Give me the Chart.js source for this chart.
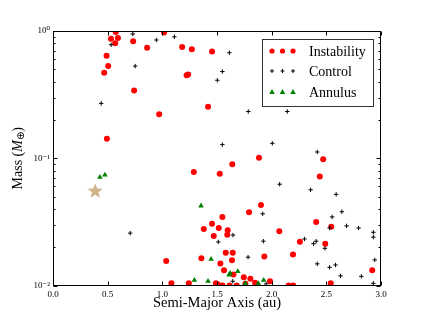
<!DOCTYPE html>
<html>
<head>
<meta charset="utf-8">
<script src="https://cdn.jsdelivr.net/npm/chart.js@4.4.1/dist/chart.umd.min.js"></script>
<style>
  html, body { margin: 0; padding: 0; background: #fff; }
</style>
</head>
<body>
<canvas id="chart" width="424" height="318"></canvas>
<script>
'use strict';

// semi-major axis (au) and mass (M_earth)
var instabilityA = [0.574, 0.53, 0.594, 0.569, 0.733, 1.016, 0.861, 1.181, 1.27, 1.455, 0.49, 0.505, 0.468, 1.222, 1.236,
  0.742, 1.418, 0.971, 0.493, 2.471, 2.44, 1.64, 1.884, 1.288, 1.525, 1.902, 1.793, 1.549, 2.407, 2.545, 2.07, 1.598,
  1.594, 2.258, 2.49, 1.58, 1.644, 2.195, 1.933, 1.637, 2.92, 1.564, 1.745, 1.805, 1.65, 1.848, 1.985, 1.76, 2.54,
  2.155, 2.197, 1.55, 1.615, 1.68, 1.455, 1.379, 1.516, 1.47, 1.035, 1.357, 1.531, 1.083, 1.242, 1.49, 1.51];
var instabilityM = [0.98, 0.87, 0.88, 0.80, 0.83, 0.975, 0.74, 0.75, 0.72, 0.69, 0.64, 0.53, 0.47, 0.45, 0.455,
  0.34, 0.254, 0.222, 0.142, 0.098, 0.072, 0.0897, 0.101, 0.078, 0.0755, 0.043, 0.0377, 0.0346, 0.0316, 0.0289, 0.0267, 0.0272,
  0.025, 0.0221, 0.0213, 0.0181, 0.0181, 0.0175, 0.0169, 0.0158, 0.0132, 0.0132, 0.0116, 0.0113, 0.0122, 0.0105, 0.0108, 0.0103, 0.0104,
  0.01, 0.01, 0.01, 0.01, 0.01, 0.0306, 0.0278, 0.0283, 0.0245, 0.0156, 0.0164, 0.0149, 0.0104, 0.0104, 0.0104, 0.0102];

var controlA = [0.73, 0.532, 0.946, 1.11, 0.752, 1.503, 0.441, 1.613, 1.549, 1.786, 2.143, 1.549, 2.006, 2.417, 2.073,
  2.356, 2.59, 1.918, 2.642, 2.553, 2.685, 2.795, 2.53, 2.93, 2.93, 1.646, 2.30, 2.407, 2.383, 1.924, 2.487, 1.784,
  2.417, 2.584, 2.53, 2.943, 2.63, 2.82, 1.95, 1.644, 2.93, 0.706, 1.512];
var controlM = [0.947, 0.78, 0.85, 0.90, 0.53, 0.41, 0.27, 0.675, 0.48, 0.233, 0.233, 0.128, 0.131, 0.112, 0.0625,
  0.0565, 0.052, 0.0366, 0.038, 0.0346, 0.0294, 0.0283, 0.0283, 0.0262, 0.024, 0.0249, 0.0232, 0.0223, 0.0213, 0.0223, 0.0196, 0.0167,
  0.0148, 0.0145, 0.0139, 0.0159, 0.0119, 0.0118, 0.0103, 0.0108, 0.0104, 0.0258, 0.022];

var annulusA = [0.429, 0.475, 1.354, 1.446, 1.293, 1.418, 1.61, 1.62, 1.69, 1.927, 1.759, 1.878];
var annulusM = [0.071, 0.074, 0.0423, 0.0161, 0.011, 0.0108, 0.0121, 0.0125, 0.0129, 0.011, 0.0104, 0.0104];

var starA = [0.386];
var starM = [0.055];

var xTicks = [0, 0.5, 1.0, 1.5, 2.0, 2.5, 3.0];
var yTicks = [0.01, 0.1, 1];
var yTickLabels = ['10\u207B\u00B2', '10\u207B\u00B9', '10\u2070'];
var legendLabels = ['Instability', 'Control', 'Annulus'];

var serif = '"Liberation Serif", "DejaVu Serif", serif';

function toPoints(a, m) {
  return a.map(function (v, i) { return { x: v, y: m[i] }; });
}

// frame, inward ticks, star, legend and y title
var decorations = {
  id: 'decorations',
  afterDraw: function (chart) {
    var ctx = chart.ctx;
    var area = chart.chartArea;
    var xs = chart.scales.x, ys = chart.scales.y;
    ctx.save();

    // star marker
    var sx = xs.getPixelForValue(starA[0]), sy = ys.getPixelForValue(starM[0]);
    ctx.beginPath();
    for (var k = 0; k < 10; k++) {
      var r = k % 2 === 0 ? 8 : 3.4;
      var ang = -Math.PI / 2 + k * Math.PI / 5;
      var px = sx + r * Math.cos(ang), py = sy + r * Math.sin(ang);
      if (k === 0) ctx.moveTo(px, py); else ctx.lineTo(px, py);
    }
    ctx.closePath();
    ctx.fillStyle = '#d2b48c';
    ctx.fill();

    // frame
    ctx.strokeStyle = '#000';
    ctx.lineWidth = 1;
    var L = Math.round(area.left) + 0.5, R = Math.round(area.right) - 0.5;
    var T = Math.round(area.top) + 0.5, B = Math.round(area.bottom) - 0.5;
    ctx.strokeRect(L, T, R - L, B - T);

    ctx.beginPath();
    xTicks.forEach(function (v) {
      var p = Math.round(xs.getPixelForValue(v)) + 0.5;
      ctx.moveTo(p, B); ctx.lineTo(p, B - 4);
      ctx.moveTo(p, T); ctx.lineTo(p, T + 4);
    });
    yTicks.forEach(function (v) {
      var p = Math.round(ys.getPixelForValue(v)) + 0.5;
      ctx.moveTo(L, p); ctx.lineTo(L + 4, p);
      ctx.moveTo(R, p); ctx.lineTo(R - 4, p);
    });
    [0.01, 0.1].forEach(function (d) {
      for (var m = 2; m <= 9; m++) {
        var p = Math.round(ys.getPixelForValue(m * d)) + 0.5;
        ctx.moveTo(L, p); ctx.lineTo(L + 2, p);
        ctx.moveTo(R, p); ctx.lineTo(R - 2, p);
      }
    });
    ctx.stroke();

    // legend
    ctx.fillStyle = '#fff';
    ctx.fillRect(262, 39, 112, 67);
    ctx.strokeStyle = '#333';
    ctx.strokeRect(262.5, 39.5, 111, 67);
    var rowsY = [51, 71, 92];
    var markX = [272, 282.5, 293];
    ctx.font = '14px ' + serif;
    ctx.textBaseline = 'middle';
    legendLabels.forEach(function (lab, i) {
      var y = rowsY[i];
      markX.forEach(function (mx) {
        if (i === 0) {
          ctx.fillStyle = '#ff0000';
          ctx.beginPath(); ctx.arc(mx, y, 2.6, 0, Math.PI * 2); ctx.fill();
        } else if (i === 1) {
          ctx.strokeStyle = '#000';
          ctx.beginPath();
          ctx.moveTo(mx - 2, y); ctx.lineTo(mx + 2, y);
          ctx.moveTo(mx, y - 2); ctx.lineTo(mx, y + 2);
          ctx.stroke();
        } else {
          ctx.fillStyle = '#008000';
          ctx.beginPath();
          ctx.moveTo(mx, y - 3); ctx.lineTo(mx + 2.8, y + 2); ctx.lineTo(mx - 2.8, y + 2);
          ctx.closePath(); ctx.fill();
        }
      });
      ctx.fillStyle = '#000';
      ctx.fillText(lab, 309, y + 1);
    });

    // y axis title with italic M and subscript earth symbol
    ctx.translate(18, (area.top + area.bottom) / 2);
    ctx.rotate(-Math.PI / 2);
    var parts = [
      { t: 'Mass (', f: '14px ' + serif, dy: 0 },
      { t: 'M', f: 'italic 14px ' + serif, dy: 0 },
      { t: '\u2295', f: '10px "DejaVu Sans", sans-serif', dy: 3 },
      { t: ')', f: '14px ' + serif, dy: 0 }
    ];
    var total = 0;
    parts.forEach(function (p) { ctx.font = p.f; total += ctx.measureText(p.t).width; });
    var cx = -total / 2;
    ctx.textBaseline = 'middle';
    ctx.textAlign = 'left';
    parts.forEach(function (p) {
      ctx.font = p.f;
      ctx.fillText(p.t, cx, p.dy);
      cx += ctx.measureText(p.t).width;
    });
    ctx.restore();
  }
};

var ctx = document.getElementById('chart').getContext('2d');
new Chart(ctx, {
  type: 'scatter',
  data: {
    datasets: [
      {
        label: 'Annulus',
        data: toPoints(annulusA, annulusM),
        pointStyle: 'triangle',
        backgroundColor: '#008000',
        borderColor: '#008000',
        borderWidth: 0,
        pointRadius: 3.2
      },
      {
        label: 'Control',
        data: toPoints(controlA, controlM),
        pointStyle: 'cross',
        backgroundColor: '#000',
        borderColor: '#000',
        borderWidth: 1,
        pointRadius: 2.2
      },
      {
        label: 'Instability',
        data: toPoints(instabilityA, instabilityM),
        pointStyle: 'circle',
        backgroundColor: '#ff0000',
        borderColor: '#ff0000',
        borderWidth: 0,
        pointRadius: 3
      }
    ]
  },
  options: {
    responsive: false,
    animation: false,
    layout: { padding: { left: 0, top: 31, right: 43, bottom: 0 } },
    plugins: {
      legend: { display: false },
      tooltip: { enabled: false }
    },
    scales: {
      x: {
        type: 'linear',
        min: 0,
        max: 3,
        afterBuildTicks: function (scale) {
          scale.ticks = xTicks.map(function (v) { return { value: v }; });
        },
        ticks: {
          callback: function (v) { return v.toFixed(1); },
          font: { family: serif, size: 9 },
          color: '#000',
          padding: 4,
          maxRotation: 0
        },
        grid: { display: false, drawTicks: false },
        border: { display: false },
        title: {
          display: true,
          text: 'Semi-Major Axis (au)',
          font: { family: serif, size: 14.5 },
          color: '#000',
          padding: { top: 0, bottom: 6 }
        },
        afterFit: function (scale) { scale.height = 32.5; }
      },
      y: {
        type: 'logarithmic',
        min: 0.01,
        max: 1,
        afterBuildTicks: function (scale) {
          scale.ticks = yTicks.map(function (v) { return { value: v }; });
        },
        ticks: {
          callback: function (v) {
            var i = yTicks.indexOf(v);
            return i >= 0 ? yTickLabels[i] : '';
          },
          font: { family: serif, size: 9 },
          color: '#000',
          padding: 3
        },
        grid: { display: false, drawTicks: false },
        border: { display: false },
        afterFit: function (scale) { scale.width = 53; }
      }
    }
  },
  plugins: [decorations]
});
</script>
</body>
</html>
